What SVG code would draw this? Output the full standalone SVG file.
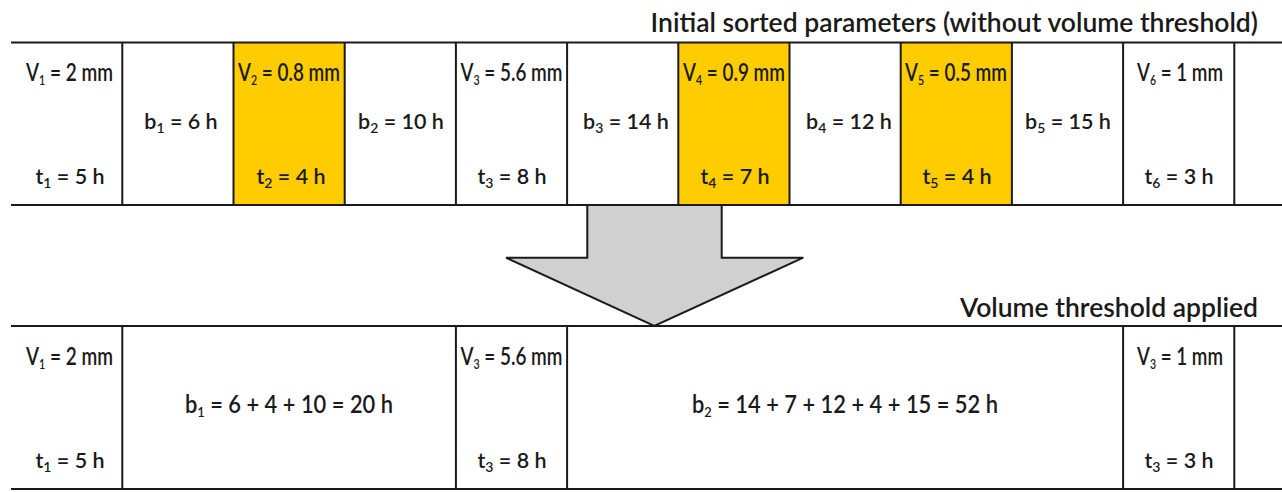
<svg xmlns="http://www.w3.org/2000/svg" width="1282" height="492" viewBox="0 0 1282 492">
<style>
  .ln { stroke: #1a1a1a; stroke-width: 2; fill: none; }
  .y { fill: #FFCC00; }
  text { font-family: Lato, "Open Sans", "Liberation Sans", sans-serif; fill: #1a1a1a; text-anchor: middle; }
  .v { font-size: 25px; font-weight: 600; }
  .t { font-size: 21.5px; font-weight: 600; }
  .b { font-size: 21.5px; font-weight: 600; }
  .bb { font-size: 24px; font-weight: 600; }
  .title { font-size: 26.5px; font-weight: 600; text-anchor: end; }
  .s { font-size: 14px; }
</style>
<rect width="1282" height="492" fill="#ffffff"/>

<g id="title-top"><text class="title" x="1258" y="32">Initial sorted parameters (without volume threshold)</text></g>
<g id="title-bottom"><text class="title" x="1258" y="317">Volume threshold applied</text></g>

<!-- top table -->
<g id="top-table">
  <rect class="y" x="233.5" y="42" width="111.2" height="163"/>
  <rect class="y" x="678.3" y="42" width="111.2" height="163"/>
  <rect class="y" x="900.7" y="42" width="111.2" height="163"/>
  <line class="ln" x1="11" y1="42.5" x2="1282" y2="42.5"/>
  <path class="ln" d="M122.3 42.5V205M233.5 42.5V205M344.7 42.5V205M455.9 42.5V205M567.1 42.5V205M678.3 42.5V205M789.5 42.5V205M900.7 42.5V205M1011.9 42.5V205M1123.1 42.5V205M1234.3 42.5V205"/>
</g>

<g id="top-v1"><text class="v" x="69.5" y="81" textLength="87" lengthAdjust="spacingAndGlyphs">V<tspan class="s" dy="4">1</tspan><tspan dy="-4"> = 2 mm</tspan></text><text class="t" x="70" y="184">t<tspan class="s" dy="4">1</tspan><tspan dy="-4"> = 5 h</tspan></text></g>
<g id="top-b1"><text class="b" x="181" y="129">b<tspan class="s" dy="4">1</tspan><tspan dy="-4"> = 6 h</tspan></text></g>
<g id="top-v2"><text class="v" x="289" y="81" textLength="102" lengthAdjust="spacingAndGlyphs">V<tspan class="s" dy="4">2</tspan><tspan dy="-4"> = 0.8 mm</tspan></text><text class="t" x="291" y="184">t<tspan class="s" dy="4">2</tspan><tspan dy="-4"> = 4 h</tspan></text></g>
<g id="top-b2"><text class="b" x="401" y="129">b<tspan class="s" dy="4">2</tspan><tspan dy="-4"> = 10 h</tspan></text></g>
<g id="top-v3"><text class="v" x="511.5" y="81" textLength="102" lengthAdjust="spacingAndGlyphs">V<tspan class="s" dy="4">3</tspan><tspan dy="-4"> = 5.6 mm</tspan></text><text class="t" x="512" y="184">t<tspan class="s" dy="4">3</tspan><tspan dy="-4"> = 8 h</tspan></text></g>
<g id="top-b3"><text class="b" x="626" y="129">b<tspan class="s" dy="4">3</tspan><tspan dy="-4"> = 14 h</tspan></text></g>
<g id="top-v4"><text class="v" x="734" y="81" textLength="102" lengthAdjust="spacingAndGlyphs">V<tspan class="s" dy="4">4</tspan><tspan dy="-4"> = 0.9 mm</tspan></text><text class="t" x="735" y="184">t<tspan class="s" dy="4">4</tspan><tspan dy="-4"> = 7 h</tspan></text></g>
<g id="top-b4"><text class="b" x="849" y="129">b<tspan class="s" dy="4">4</tspan><tspan dy="-4"> = 12 h</tspan></text></g>
<g id="top-v5"><text class="v" x="956" y="81" textLength="102" lengthAdjust="spacingAndGlyphs">V<tspan class="s" dy="4">5</tspan><tspan dy="-4"> = 0.5 mm</tspan></text><text class="t" x="957" y="184">t<tspan class="s" dy="4">5</tspan><tspan dy="-4"> = 4 h</tspan></text></g>
<g id="top-b5"><text class="b" x="1068" y="129">b<tspan class="s" dy="4">5</tspan><tspan dy="-4"> = 15 h</tspan></text></g>
<g id="top-v6"><text class="v" x="1180" y="81" textLength="86" lengthAdjust="spacingAndGlyphs">V<tspan class="s" dy="4">6</tspan><tspan dy="-4"> = 1 mm</tspan></text><text class="t" x="1179" y="184">t<tspan class="s" dy="4">6</tspan><tspan dy="-4"> = 3 h</tspan></text></g>

<!-- arrow -->
<g id="connectors">
  <path id="arrow" d="M587.3 205 V257.7 H506 L654.3 326 L803.3 257.7 H721.7 V205 Z" fill="#D0D0D0" stroke="#1a1a1a" stroke-width="2" stroke-linejoin="miter"/>
  <line class="ln" x1="11" y1="205" x2="1282" y2="205"/>
</g>

<!-- bottom table -->
<g id="bottom-table">
  <line class="ln" x1="11" y1="326" x2="1282" y2="326"/>
  <line class="ln" x1="11" y1="489" x2="1282" y2="489"/>
  <path class="ln" d="M122.3 326V489M455.9 326V489M567.1 326V489M1123.1 326V489M1234.3 326V489"/>
</g>

<g id="bot-v1"><text class="v" x="69.5" y="365" textLength="87" lengthAdjust="spacingAndGlyphs">V<tspan class="s" dy="4">1</tspan><tspan dy="-4"> = 2 mm</tspan></text><text class="t" x="70" y="468">t<tspan class="s" dy="4">1</tspan><tspan dy="-4"> = 5 h</tspan></text></g>
<g id="bot-b1"><text class="bb" x="289" y="413" textLength="208" lengthAdjust="spacingAndGlyphs">b<tspan class="s" dy="4">1</tspan><tspan dy="-4"> = 6 + 4 + 10 = 20 h</tspan></text></g>
<g id="bot-v3"><text class="v" x="511.5" y="365" textLength="102" lengthAdjust="spacingAndGlyphs">V<tspan class="s" dy="4">3</tspan><tspan dy="-4"> = 5.6 mm</tspan></text><text class="t" x="512" y="468">t<tspan class="s" dy="4">3</tspan><tspan dy="-4"> = 8 h</tspan></text></g>
<g id="bot-b2"><text class="bb" x="845" y="413" textLength="306" lengthAdjust="spacingAndGlyphs">b<tspan class="s" dy="4">2</tspan><tspan dy="-4"> = 14 + 7 + 12 + 4 + 15 = 52 h</tspan></text></g>
<g id="bot-v6"><text class="v" x="1180" y="365" textLength="86" lengthAdjust="spacingAndGlyphs">V<tspan class="s" dy="4">3</tspan><tspan dy="-4"> = 1 mm</tspan></text><text class="t" x="1179" y="468">t<tspan class="s" dy="4">3</tspan><tspan dy="-4"> = 3 h</tspan></text></g>
</svg>
